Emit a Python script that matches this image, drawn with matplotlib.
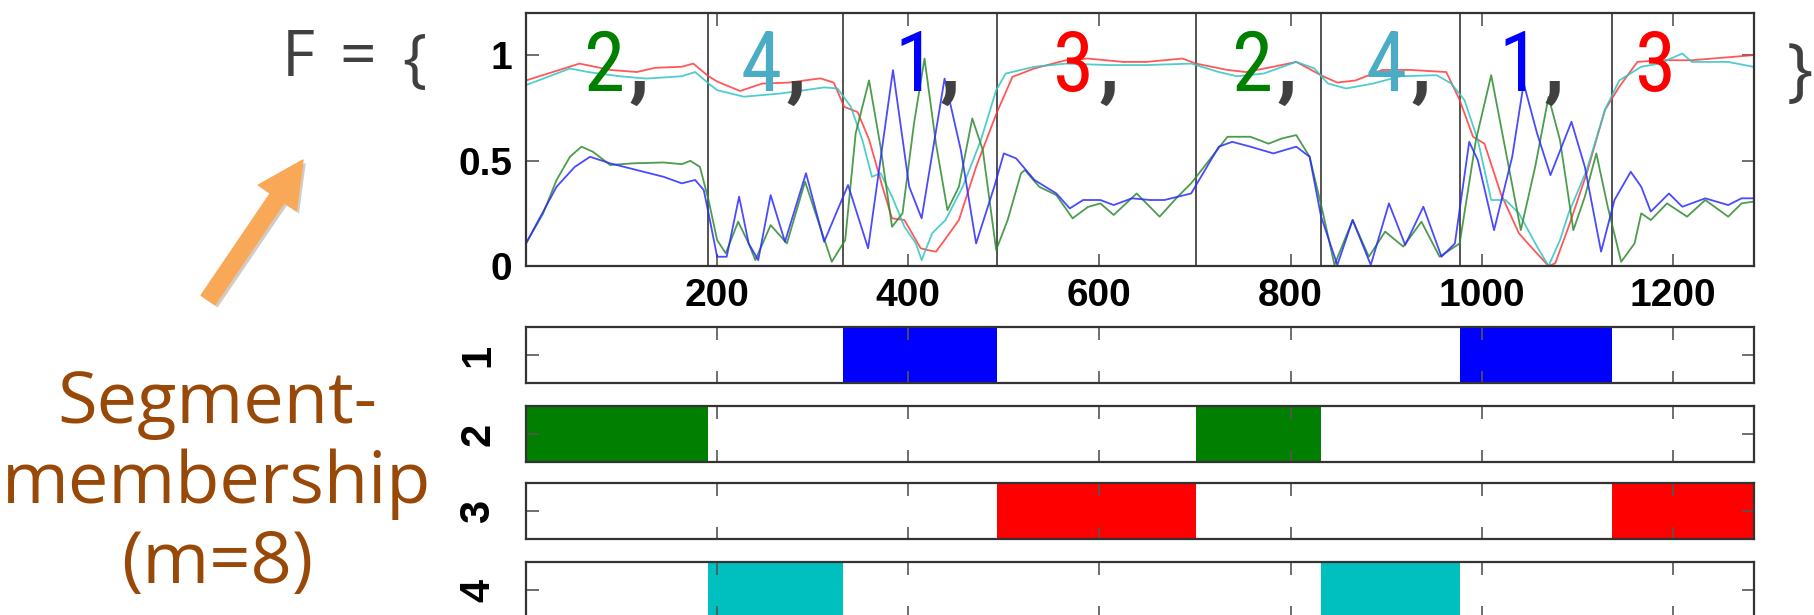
import matplotlib
matplotlib.use('Agg')
from matplotlib import pyplot as plt
from matplotlib import font_manager
import matplotlib.patheffects as pe

# segmentation of the sequence into m=8 pieces and the cluster of each piece
seg_edges = [0, 190, 332, 493, 701, 832, 977, 1136, 1285]
seg_states = [2, 4, 1, 3, 2, 4, 1, 3]
strip_ids = [1, 2, 3, 4]

xticks = [200, 400, 600, 800, 1000, 1200]
yticks = [0, 0.5, 1]
ytick_labels = ['0', '0.5', '1']

# membership curves (one per cluster)
red_x = [0, 56, 88, 116, 135, 163, 175, 191, 200, 224, 247, 275, 308, 322, 333, 347,
         359, 373, 383, 396, 406, 413, 420, 429, 438, 453, 471, 492, 509, 532, 565, 588,
         625, 649, 687, 701, 734, 753, 782, 806, 834, 849, 868, 896, 925, 963, 977, 991,
         1003, 1020, 1039, 1053, 1070, 1077, 1091, 1110, 1129, 1144, 1163, 1186, 1220,
         1258, 1284]
red_y = [0.88, 0.96, 0.93, 0.92, 0.94, 0.945, 0.96, 0.9, 0.875, 0.83, 0.865, 0.87, 0.89,
         0.87, 0.755, 0.73, 0.6, 0.376, 0.226, 0.218, 0.139, 0.084, 0.076, 0.068, 0.123,
         0.218, 0.47, 0.72, 0.897, 0.937, 0.976, 0.984, 0.968, 0.968, 0.984, 0.96, 0.93,
         0.92, 0.945, 0.968, 0.9, 0.87, 0.88, 0.93, 0.93, 0.92, 0.787, 0.613, 0.58, 0.344,
         0.155, 0.084, 0.0, 0.013, 0.186, 0.44, 0.74, 0.85, 0.968, 0.976, 0.976, 0.99, 1.0]

cyan_x = [0, 46, 65, 98, 126, 163, 177, 191, 200, 228, 266, 312, 326, 340, 352, 362, 371,
          383, 396, 408, 414, 425, 439, 457, 476, 492, 502, 532, 565, 611, 649, 696, 725,
          744, 772, 806, 825, 839, 858, 887, 915, 953, 968, 982, 996, 1010, 1025, 1039,
          1058, 1070, 1082, 1091, 1110, 1129, 1144, 1167, 1186, 1210, 1220, 1258, 1284]
cyan_y = [0.858, 0.937, 0.92, 0.9, 0.889, 0.9, 0.92, 0.866, 0.834, 0.803, 0.818, 0.847,
          0.842, 0.755, 0.597, 0.423, 0.44, 0.33, 0.186, 0.107, 0.028, 0.155, 0.218, 0.376,
          0.597, 0.834, 0.913, 0.945, 0.96, 0.953, 0.953, 0.96, 0.92, 0.9, 0.913, 0.968,
          0.937, 0.866, 0.842, 0.866, 0.9, 0.905, 0.866, 0.787, 0.597, 0.313, 0.313, 0.25,
          0.092, 0.0, 0.123, 0.25, 0.455, 0.74, 0.88, 0.945, 0.96, 1.008, 0.968, 0.968, 0.945]

green_x = [0, 18, 32, 46, 58, 70, 88, 112, 144, 163, 172, 182, 191, 200, 209, 222, 233,
           240, 256, 273, 292, 303, 320, 334, 345, 359, 371, 383, 394, 406, 417, 429, 441,
           453, 467, 478, 492, 504, 518, 522, 537, 555, 572, 588, 601, 615, 639, 663, 682,
           696, 715, 734, 758, 777, 791, 806, 820, 834, 846, 865, 882, 899, 918, 937, 956,
           977, 994, 1010, 1027, 1041, 1056, 1070, 1082, 1096, 1108, 1120, 1132, 1146, 1160,
           1167, 1177, 1194, 1215, 1234, 1258, 1272, 1284]
green_y = [0.107, 0.25, 0.408, 0.518, 0.566, 0.542, 0.479, 0.487, 0.491, 0.483, 0.499,
           0.47, 0.313, 0.123, 0.06, 0.21, 0.107, 0.028, 0.194, 0.107, 0.4, 0.25, 0.02,
           0.123, 0.63, 0.88, 0.566, 0.186, 0.25, 0.676, 0.984, 0.58, 0.265, 0.376, 0.7,
           0.55, 0.076, 0.218, 0.44, 0.455, 0.376, 0.336, 0.226, 0.28, 0.297, 0.242, 0.344,
           0.234, 0.329, 0.392, 0.502, 0.613, 0.613, 0.58, 0.605, 0.621, 0.518, 0.25, 0.005,
           0.218, 0.044, 0.163, 0.092, 0.21, 0.044, 0.107, 0.597, 0.905, 0.502, 0.17, 0.47,
           0.802, 0.597, 0.17, 0.329, 0.534, 0.28, 0.02, 0.107, 0.25, 0.218, 0.297, 0.234,
           0.313, 0.234, 0.297, 0.305]

blue_x = [0, 32, 51, 67, 88, 116, 144, 163, 177, 186, 191, 200, 210, 223, 233, 243, 256,
          271, 293, 312, 337, 358, 384, 401, 414, 438, 455, 471, 490, 500, 513, 532, 555,
          569, 583, 601, 615, 634, 653, 668, 696, 725, 739, 758, 782, 806, 820, 832, 849,
          865, 884, 903, 920, 939, 958, 972, 987, 996, 1013, 1032, 1044, 1058, 1072, 1094,
          1108, 1125, 1139, 1156, 1167, 1177, 1196, 1210, 1234, 1258, 1272, 1284]
blue_y = [0.107, 0.376, 0.47, 0.518, 0.487, 0.455, 0.423, 0.392, 0.408, 0.36, 0.25, 0.044,
          0.044, 0.329, 0.107, 0.028, 0.336, 0.115, 0.44, 0.115, 0.384, 0.084, 0.929, 0.376,
          0.226, 0.889, 0.55, 0.107, 0.376, 0.534, 0.51, 0.408, 0.344, 0.273, 0.313, 0.313,
          0.289, 0.321, 0.313, 0.313, 0.344, 0.566, 0.589, 0.566, 0.534, 0.566, 0.518,
          0.234, 0.005, 0.218, 0.005, 0.297, 0.1, 0.281, 0.044, 0.107, 0.589, 0.502, 0.17,
          0.518, 0.866, 0.629, 0.431, 0.684, 0.47, 0.068, 0.313, 0.447, 0.376, 0.258, 0.344,
          0.281, 0.321, 0.289, 0.321, 0.321]

bar_colors = {1: '#0000ff', 2: '#007f00', 3: '#ff0000', 4: '#00bfbf'}
digit_colors = {1: '#0000ff', 2: '#008000', 3: '#ff0000', 4: '#4bacc6'}
gray = '#404040'
brown = '#984807'

W, H = 1814, 615
fig = plt.figure(figsize=(W / 100, H / 100), dpi=100)
plt.rcParams['font.family'] = ['Liberation Sans', 'DejaVu Sans']

installed = {f.name for f in font_manager.fontManager.ttflist}
cond_fonts = ['Liberation Sans Narrow', 'Roboto Condensed', 'Open Sans Condensed',
              'DejaVu Sans Condensed']
narrow = next((f for f in cond_fonts if f in installed), 'Open Sans')


def fx(px):
    return px / W


def fy(py):
    return 1 - py / H


def style_axes(a):
    for s in a.spines.values():
        s.set_color('#333333')
        s.set_linewidth(1.6)
    a.tick_params(direction='in', top=True, right=True, length=9, width=1.2,
                  color='#555555', labelsize=30)


# curves
ax = fig.add_axes([fx(526), fy(266), fx(1754) - fx(526), fy(13) - fy(266)])
for e in seg_edges[1:-1]:
    ax.axvline(e, color='#444444', lw=1.3, zorder=1)
ax.plot(red_x, red_y, color='#ff3b3b', lw=1.3, alpha=0.85)
ax.plot(cyan_x, cyan_y, color='#33c4c4', lw=1.3, alpha=0.85)
ax.plot(green_x, green_y, color='#2e8b2e', lw=1.3, alpha=0.85)
ax.plot(blue_x, blue_y, color='#2a2aff', lw=1.3, alpha=0.85)
ax.set_xlim(seg_edges[0], seg_edges[-1])
ax.set_ylim(0, 1.2)
ax.set_xticks(xticks)
ax.set_yticks(yticks)
ax.set_yticklabels(ytick_labels)
style_axes(ax)
ax.tick_params(axis='x', pad=9)
ax.tick_params(axis='y', pad=10)
for lab in ax.get_xticklabels() + ax.get_yticklabels():
    lab.set_fontweight('bold')
    lab.set_fontsize(28)

# membership strips
strip_tops = [327, 406, 483, 562]
for k, top in zip(strip_ids, strip_tops):
    sa = fig.add_axes([fx(526), fy(top + 56), fx(1754) - fx(526), fy(top) - fy(top + 56)])
    spans = [(seg_edges[i], seg_edges[i + 1] - seg_edges[i])
             for i, s in enumerate(seg_states) if s == k]
    sa.broken_barh(spans, (0, 1), facecolors=bar_colors[k], zorder=0)
    sa.set_xlim(seg_edges[0], seg_edges[-1])
    sa.set_ylim(0, 1)
    sa.set_xticks(xticks)
    sa.set_yticks([0.5])
    sa.set_yticklabels([str(k)], rotation=90, va='center', fontweight='bold')
    style_axes(sa)
    sa.tick_params(labelbottom=False, pad=20)

# F = { 2, 4, 1, 3, ... }
fig.text(fx(282), fy(76), 'F', fontsize=46, color=gray, family='Open Sans',
         ha='left', va='baseline')
fig.text(fx(358), fy(76), '=', fontsize=46, color=gray, family='Open Sans',
         ha='center', va='baseline')
fig.text(fx(414), fy(80), '{', fontsize=46, color=gray, family='Open Sans',
         ha='center', va='baseline')
fig.text(fx(1800), fy(93), '}', fontsize=50, color=gray, family='Open Sans',
         ha='center', va='baseline')
digit_px = [604, 761, 915, 1074, 1252, 1386, 1519, 1656]
for i, (s, px) in enumerate(zip(seg_states, digit_px)):
    fig.text(fx(px), fy(91), str(s), fontsize=60, color=digit_colors[s], family=narrow,
             fontweight='normal', ha='center', va='baseline')
    if i < len(seg_states) - 1:
        fig.text(fx(px + 35), fy(91), ',', fontsize=60, color=gray, family=narrow,
                 fontweight='bold', ha='center', va='baseline')

# arrow and caption
fig.add_artist(plt.Annotation(
    '', xy=(303, H - 160), xytext=(208, H - 300),
    xycoords='figure pixels', textcoords='figure pixels',
    arrowprops=dict(arrowstyle='simple,head_length=33,head_width=33,tail_width=12',
                    mutation_scale=1, color='#f9a857', shrinkA=0, shrinkB=0,
                    path_effects=[pe.SimplePatchShadow(offset=(2, -2), alpha=0.25),
                                  pe.Normal()])))
for txt, base in [('Segment-', 423), ('membership', 503), ('(m=8)', 583)]:
    fig.text(fx(217), fy(base), txt, fontsize=52, color=brown, family='Open Sans',
             ha='center', va='baseline')

fig.savefig('out.png', dpi=100)
